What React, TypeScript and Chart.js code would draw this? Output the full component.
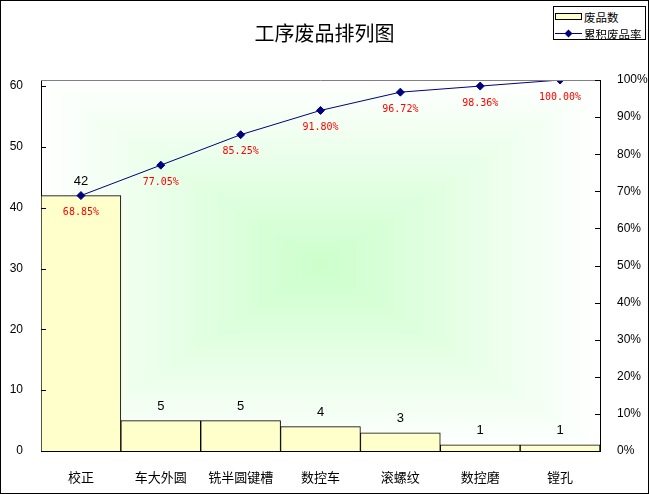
import React, { useEffect, useRef } from "react";
import { Chart, registerables } from "chart.js";

Chart.register(...registerables);

// categories and values
const categories = ["校正", "车大外圆", "铣半圆键槽", "数控车", "滚螺纹", "数控磨", "镗孔"];
const defectCounts = [42, 5, 5, 4, 3, 1, 1];
const cumulativePct = [68.85, 77.05, 85.25, 91.8, 96.72, 98.36, 100.0];

const countAxisMax = 61;
const countStep = 10;
const pctStep = 10;

const CJK = '"Noto Sans CJK SC", sans-serif';
const LATIN = '"Liberation Sans", Arial, sans-serif';

// Excel style "from centre" gradient behind the plot
const plotGradient = {
    id: "plotGradient",
    beforeDraw(chart: any) {
        const { ctx, chartArea } = chart;
        const { left, top, right, bottom } = chartArea;
        const cx = (left + right) / 2;
        const cy = (top + bottom) / 2;
        const hw = (right - left) / 2;
        const hh = (bottom - top) / 2;
        const steps = 80;
        ctx.save();
        for (let i = steps; i >= 1; i--) {
            const t = i / steps;
            const r = Math.round(204 + (255 - 204) * t);
            const b = Math.round(204 + (255 - 204) * t);
            ctx.fillStyle = `rgb(${r},255,${b})`;
            ctx.fillRect(cx - hw * t, cy - hh * t, hw * t * 2, hh * t * 2);
        }
        ctx.restore();
    },
};

// grey top edge, inward tick marks and the value labels
const chartDecor = {
    id: "chartDecor",
    afterDraw(chart: any) {
        const { ctx, chartArea } = chart;
        const { left, top, right } = chartArea;
        ctx.save();
        ctx.strokeStyle = "#808080";
        ctx.lineWidth = 1;
        ctx.beginPath();
        ctx.moveTo(left, top + 0.5);
        ctx.lineTo(right, top + 0.5);
        ctx.stroke();

        ctx.strokeStyle = "#000";
        const yScale = chart.scales.y;
        yScale.ticks.forEach((tk: any) => {
            const py = Math.round(yScale.getPixelForValue(tk.value)) + 0.5;
            ctx.beginPath();
            ctx.moveTo(left, py);
            ctx.lineTo(left + 5, py);
            ctx.stroke();
        });
        const pScale = chart.scales.y1;
        pScale.ticks.forEach((tk: any) => {
            const py = Math.round(pScale.getPixelForValue(tk.value)) + 0.5;
            ctx.beginPath();
            ctx.moveTo(right - 5, py);
            ctx.lineTo(right, py);
            ctx.stroke();
        });

        // bar values
        const barMeta = chart.getDatasetMeta(1);
        ctx.fillStyle = "#000";
        ctx.font = `13px ${LATIN}`;
        ctx.textAlign = "center";
        ctx.textBaseline = "middle";
        barMeta.data.forEach((bar: any, i: number) => {
            ctx.fillText(String(defectCounts[i]), bar.x, bar.y - 14);
        });

        // cumulative percentages
        const lineMeta = chart.getDatasetMeta(0);
        ctx.fillStyle = "#ff0000";
        ctx.font = `10px "DejaVu Sans Mono", monospace`;
        lineMeta.data.forEach((pt: any, i: number) => {
            ctx.fillText(cumulativePct[i].toFixed(2) + "%", pt.x, pt.y + 17);
        });
        ctx.restore();
    },
};

export default function App() {
    const canvasRef = useRef<HTMLCanvasElement | null>(null);

    useEffect(() => {
        if (!canvasRef.current) return;
        const chart = new Chart(canvasRef.current, {
            type: "bar",
            data: {
                labels: categories,
                datasets: [
                    {
                        type: "line",
                        label: "累积废品率",
                        data: cumulativePct,
                        yAxisID: "y1",
                        order: 0,
                        borderColor: "#000080",
                        borderWidth: 1,
                        pointStyle: "rectRot",
                        pointRadius: 4,
                        pointBackgroundColor: "#000080",
                        pointBorderColor: "#000080",
                        tension: 0,
                    },
                    {
                        type: "bar",
                        label: "废品数",
                        data: defectCounts,
                        yAxisID: "y",
                        order: 1,
                        backgroundColor: "#FFFFCC",
                        borderColor: "#000",
                        borderWidth: 1,
                        barPercentage: 1,
                        categoryPercentage: 1,
                    },
                ] as any,
            },
            options: {
                responsive: false,
                animation: false,
                layout: { padding: 0 },
                plugins: {
                    legend: { display: false },
                    tooltip: { enabled: false },
                    title: {
                        display: true,
                        text: "工序废品排列图",
                        color: "#000",
                        font: { family: CJK, size: 20, weight: "normal", lineHeight: 1.2 },
                        padding: { top: 20, bottom: 35 },
                    },
                },
                scales: {
                    x: {
                        offset: true,
                        grid: { display: false },
                        border: { display: true, color: "#000", width: 1 },
                        ticks: {
                            color: "#000",
                            font: { family: CJK, size: 13 },
                            padding: 10,
                            maxRotation: 0,
                            autoSkip: false,
                        },
                        afterFit: (s: any) => { s.height = 42; },
                    },
                    y: {
                        position: "left",
                        min: 0,
                        max: countAxisMax,
                        grid: { display: false },
                        border: { display: true, color: "#000", width: 1 },
                        ticks: {
                            stepSize: countStep,
                            includeBounds: false,
                            color: "#000",
                            font: { family: LATIN, size: 12 },
                            padding: 10,
                        },
                        afterFit: (s: any) => { s.width = 40; },
                    },
                    y1: {
                        position: "right",
                        min: 0,
                        max: 100,
                        grid: { display: false },
                        border: { display: true, color: "#000", width: 1 },
                        ticks: {
                            stepSize: pctStep,
                            color: "#000",
                            font: { family: LATIN, size: 12 },
                            padding: 9,
                            callback: (v: any) => v + "%",
                        },
                        afterFit: (s: any) => { s.width = 48; },
                    },
                },
            } as any,
            plugins: [plotGradient, chartDecor],
        });
        return () => chart.destroy();
    }, []);

    return (
        <div
            style={{
                position: "absolute",
                left: 0,
                top: 0,
                width: 649,
                height: 494,
                border: "1px solid #000",
                boxSizing: "border-box",
                background: "#fff",
            }}
        >
            <canvas ref={canvasRef} width={647} height={492} style={{ display: "block" }} />
            <div
                style={{
                    position: "absolute",
                    left: 552,
                    top: 5,
                    width: 93,
                    height: 34,
                    border: "1px solid #000",
                    boxSizing: "border-box",
                    background: "#fff",
                    fontFamily: CJK,
                    fontSize: 11.5,
                    lineHeight: "12px",
                    color: "#000",
                }}
            >
                <div
                    style={{
                        position: "absolute",
                        left: 1,
                        top: 6,
                        width: 27,
                        height: 7,
                        border: "1px solid #000",
                        boxSizing: "border-box",
                        background: "#FFFFCC",
                    }}
                />
                <span style={{ position: "absolute", left: 30, top: 4, whiteSpace: "nowrap" }}>废品数</span>
                <svg style={{ position: "absolute", left: 0, top: 22 }} width={28} height={9}>
                    <line x1={1} y1={4.5} x2={28} y2={4.5} stroke="#000080" strokeWidth={1} />
                    <polygon points="14.5,0.5 18.5,4.5 14.5,8.5 10.5,4.5" fill="#000080" />
                </svg>
                <span style={{ position: "absolute", left: 30, top: 21, whiteSpace: "nowrap" }}>累积废品率</span>
            </div>
        </div>
    );
}
